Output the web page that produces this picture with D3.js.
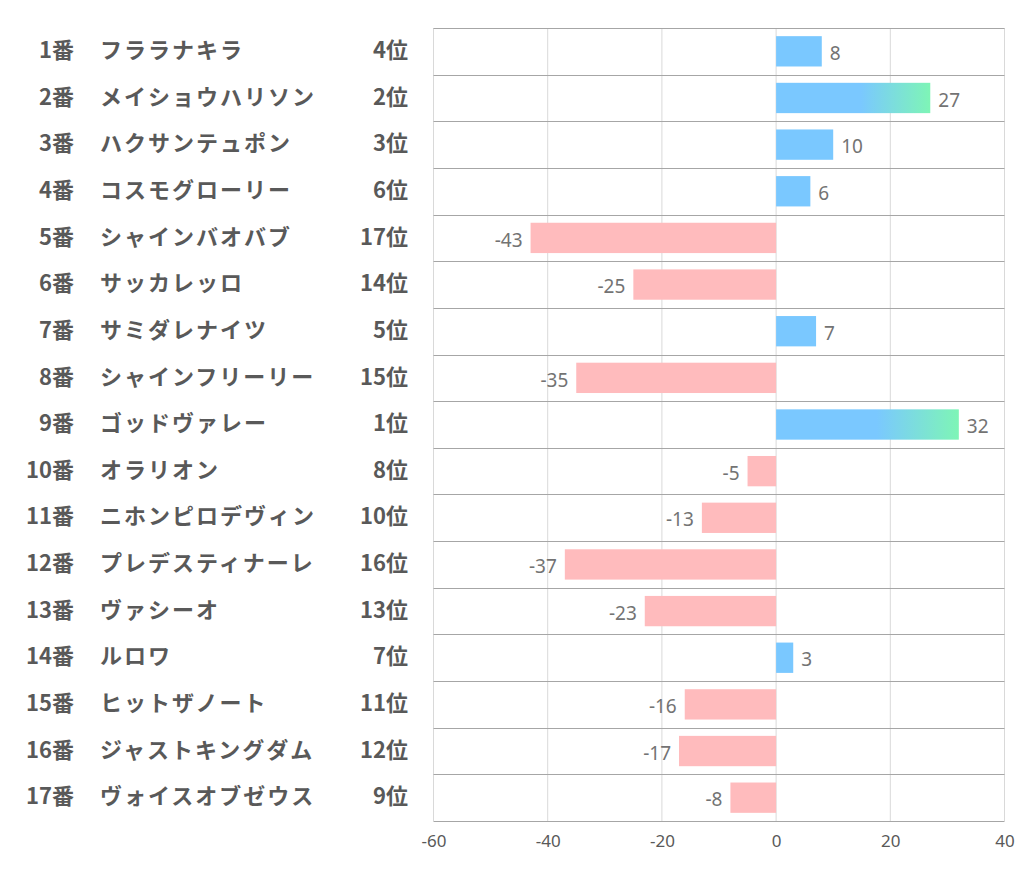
<!DOCTYPE html>
<html><head><meta charset="utf-8">
<script src="https://cdn.jsdelivr.net/npm/d3@7"></script>
<style>body{margin:0;background:#fff;}</style>
</head><body>
<svg id="c" width="1022" height="887"></svg>
<script>
const numbers = ["1番","2番","3番","4番","5番","6番","7番","8番","9番","10番","11番","12番","13番","14番","15番","16番","17番"];
const horses = ["フララナキラ","メイショウハリソン","ハクサンテュポン","コスモグローリー","シャインバオバブ","サッカレッロ","サミダレナイツ","シャインフリーリー","ゴッドヴァレー","オラリオン","ニホンピロデヴィン","プレデスティナーレ","ヴァシーオ","ルロワ","ヒットザノート","ジャストキングダム","ヴォイスオブゼウス"];
const ranks = ["4位","2位","3位","6位","17位","14位","5位","15位","1位","8位","10位","16位","13位","7位","11位","12位","9位"];
const values = [8,27,10,6,-43,-25,7,-35,32,-5,-13,-37,-23,3,-16,-17,-8];
const xTicks = [-60,-40,-20,0,20,40];

const svg = d3.select("#c");
const L = 433.5, R = 1004.5, T = 28, B = 821;
const x = d3.scaleLinear().domain([-60,40]).range([L,R]);
const y = d3.scaleBand().domain(d3.range(values.length)).range([T,B]).paddingInner(0.35).paddingOuter(0.175);
const yRow = d3.scaleBand().domain(d3.range(values.length)).range([T,B]);

const defs = svg.append("defs");
const g = defs.append("linearGradient").attr("id","grad").attr("x1","0").attr("x2","1").attr("y1","0").attr("y2","0");
g.append("stop").attr("offset","0.55").attr("stop-color","#7ac8ff");
g.append("stop").attr("offset","1").attr("stop-color","#7ef5b6");

// vertical grid
svg.append("g").selectAll("line").data(xTicks).join("line")
  .attr("x1",d=>x(d)).attr("x2",d=>x(d)).attr("y1",T).attr("y2",B)
  .attr("stroke","#d9d9d9").attr("stroke-width",1);
// horizontal grid
svg.append("g").selectAll("line").data(d3.range(values.length+1)).join("line")
  .attr("x1",L).attr("x2",R)
  .attr("y1",i=>i<values.length?Math.round(yRow(i))+0.5:B+0.5)
  .attr("y2",i=>i<values.length?Math.round(yRow(i))+0.5:B+0.5)
  .attr("stroke","#a6a6a6").attr("stroke-width",1);

// bars
svg.append("g").selectAll("rect").data(values).join("rect")
  .attr("x",d=>x(Math.min(0,d))).attr("width",d=>Math.abs(x(d)-x(0)))
  .attr("y",(d,i)=>y(i)).attr("height",y.bandwidth())
  .attr("fill",d=>d>=20?"url(#grad)":(d>=0?"#7ac8ff":"#ffbbbd"));

// value labels
svg.append("g").selectAll("text").data(values).join("text")
  .attr("x",d=>d>=0?x(d)+8:x(d)-8)
  .attr("y",(d,i)=>yRow(i)+yRow.bandwidth()/2+2)
  .attr("dy","0.35em")
  .attr("text-anchor",d=>d>=0?"start":"end")
  .attr("font-family","'Noto Sans', 'Open Sans', sans-serif").attr("font-size",19)
  .attr("fill","#737373").text(d=>d);

// x axis
const ax = svg.append("g").attr("transform",`translate(0,${B})`)
  .call(d3.axisBottom(x).tickValues(xTicks).tickSize(0).tickPadding(14).tickFormat(d=>String(d)));
ax.select(".domain").remove();
ax.selectAll("text").attr("font-family","'Noto Sans', 'Open Sans', sans-serif").attr("font-size",17).attr("fill","#595959");

// left labels
const lab = svg.append("g").attr("font-family","'Noto Sans CJK JP', sans-serif").attr("font-weight","bold").attr("font-size",22).attr("fill","#595959");
lab.selectAll("text.n").data(numbers).join("text").attr("class","n")
  .attr("x",74).attr("y",(d,i)=>yRow(i)+yRow.bandwidth()/2-1).attr("dy","0.35em")
  .attr("text-anchor","end").text(d=>d);
lab.selectAll("text.h").data(horses).join("text").attr("class","h")
  .attr("x",100).attr("y",(d,i)=>yRow(i)+yRow.bandwidth()/2-1).attr("dy","0.35em")
  .attr("text-anchor","start").attr("letter-spacing","2").text(d=>d);
lab.selectAll("text.r").data(ranks).join("text").attr("class","r")
  .attr("x",408).attr("y",(d,i)=>yRow(i)+yRow.bandwidth()/2-1).attr("dy","0.35em")
  .attr("text-anchor","end").text(d=>d);
</script>
</body></html>
